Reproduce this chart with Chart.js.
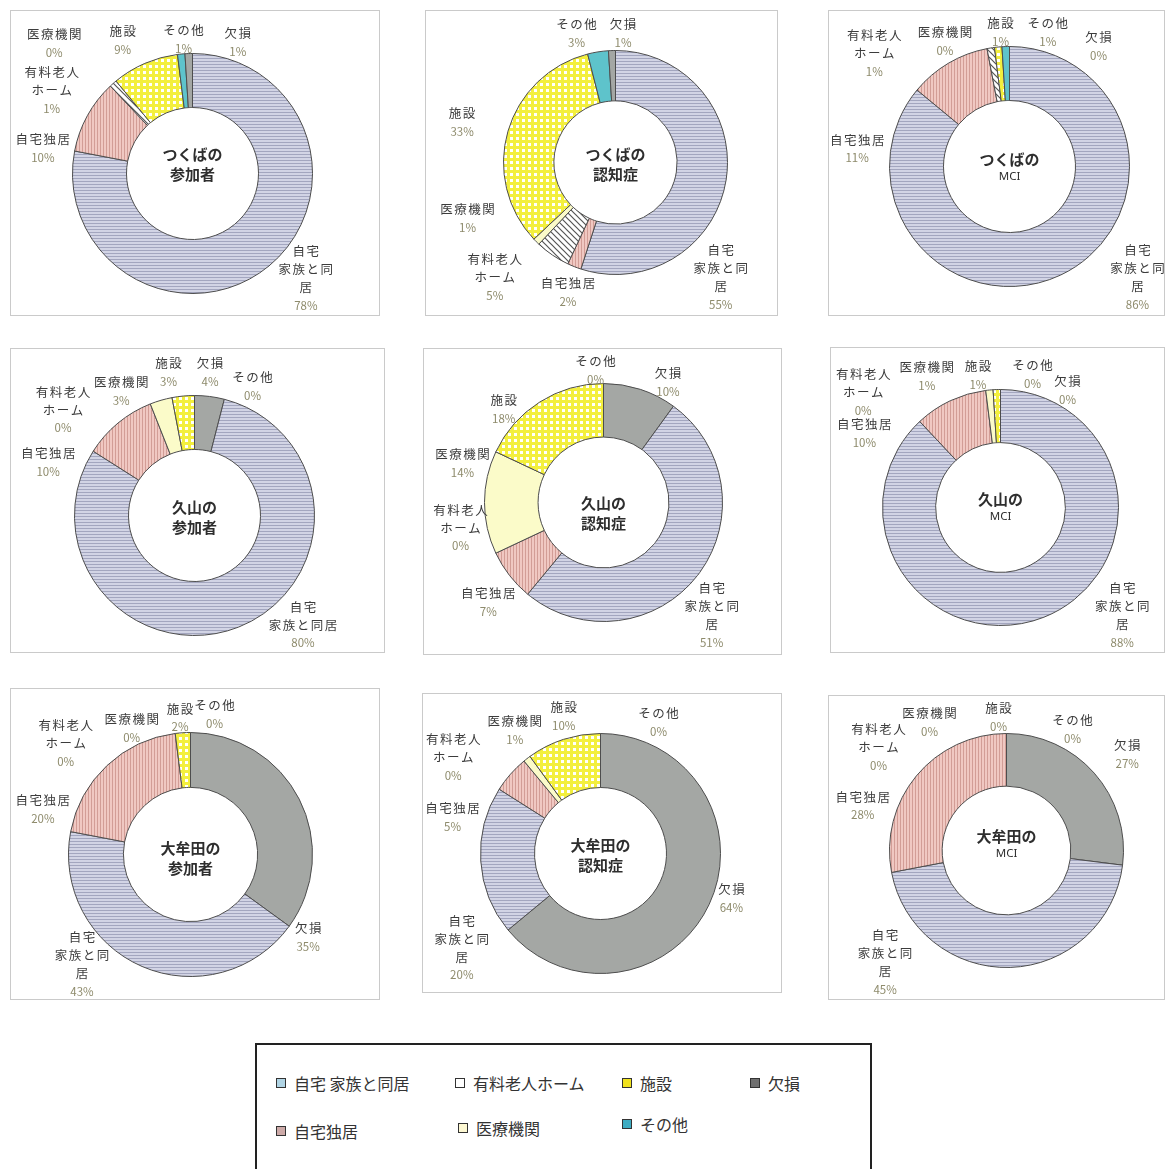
<!DOCTYPE html>
<html lang="ja">
<head>
<meta charset="utf-8">
<script src="https://cdn.jsdelivr.net/npm/chart.js@4.4.1/dist/chart.umd.min.js"></script>
<style>
  body { margin: 0; background: #fff; width: 1165px; height: 1169px; position: relative; overflow: hidden;
         font-family: "Noto Sans CJK JP", "Noto Sans", sans-serif; }
  .box { position: absolute; border: 1px solid #cacaca; box-sizing: border-box; }
  canvas.pie { position: absolute; }
  #legend { position: absolute; left: 255px; top: 1043px; width: 617px; height: 150px;
            border: 2px solid #222; box-sizing: border-box; }
  .item { position: absolute; font-size: 16px; color: #333; white-space: nowrap; line-height: 20px; }
  .item i { display: inline-block; width: 8px; height: 8px; border: 1px solid #333; margin-right: 8px; vertical-align: 2px; }
</style>
</head>
<body>
<div id="legend"></div>
<script>
// 区分（凡例の順）
const categories = ['自宅 家族と同居', '自宅独居', '有料老人ホーム', '医療機関', '施設', '欠損', 'その他'];

// 円の並び順（12時から時計回り）
const orderTsukuba = [0, 1, 2, 3, 4, 6, 5];
const orderOther = [5, 0, 1, 2, 3, 4, 6];

// 割合（%）…並び順どおり
const tsukubaParticipants = [78, 10, 1, 0, 9, 1, 1];
const tsukubaDementia     = [55, 2, 5, 1, 33, 3, 1];
const tsukubaMCI          = [86, 11, 1, 0, 1, 1, 0];
const hisayamaParticipants = [4, 80, 10, 0, 3, 3, 0];
const hisayamaDementia     = [10, 51, 7, 0, 14, 18, 0];
const hisayamaMCI          = [0, 88, 10, 0, 1, 1, 0];
const omutaParticipants = [35, 43, 20, 0, 0, 2, 0];
const omutaDementia     = [64, 20, 5, 0, 1, 10, 0];
const omutaMCI          = [27, 45, 28, 0, 0, 0, 0];

const chartTitles = [
  ['つくばの', '参加者'], ['つくばの', '認知症'], ['つくばの', 'MCI'],
  ['久山の', '参加者'], ['久山の', '認知症'], ['久山の', 'MCI'],
  ['大牟田の', '参加者'], ['大牟田の', '認知症'], ['大牟田の', 'MCI']
];

const charts = [
  { values: tsukubaParticipants, order: orderTsukuba },
  { values: tsukubaDementia, order: orderTsukuba },
  { values: tsukubaMCI, order: orderTsukuba },
  { values: hisayamaParticipants, order: orderOther },
  { values: hisayamaDementia, order: orderOther },
  { values: hisayamaMCI, order: orderOther },
  { values: omutaParticipants, order: orderOther },
  { values: omutaDementia, order: orderOther },
  { values: omutaMCI, order: orderOther }
];

// 枠と円の配置: [left, top, width, height, centerX, centerY, radius, titleDy]
const frames = [
  [10, 10, 370, 306, 192, 173, 120, -9],
  [425, 10, 353, 306, 615, 162, 112, 2],
  [828, 10, 337, 306, 1009, 166, 120, 1],
  [10, 348, 375, 305, 194, 515, 120, 2],
  [423, 348, 359, 307, 603, 502, 119, 11],
  [830, 347, 335, 306, 1000, 507, 118, 0],
  [10, 688, 370, 312, 190, 854, 122, 4],
  [422, 693, 360, 300, 600, 853, 120, 2],
  [828, 695, 337, 305, 1006, 850, 117, -6]
];

// ラベルのずらし量（並び順どおり）
const nudges = [
  [[19,-9],[-20,46],[-43,28],[-44,-16],[-11,3],[5,13],[50,17]],
  [[-33,93],[4,0],[-42,-1],[-49,-43],[-19,-1],[-17,9],[12,11]],
  [[65,-23],[-77,110],[-112,33],[-46,22],[5,13],[43,14],[89,28]],
  [[-3,4],[54,-28],[-52,61],[-77,32],[-32,18],[-12,4],[58,19]],
  [[19,20],[-8,23],[1,10],[-10,-37],[6,-39],[-21,31],[-8,15]],
  [[67,29],[68,-28],[-74,58],[-119,30],[-60,14],[-18,14],[32,13]],
  [[-16,151],[-49,-28],[-45,64],[-106,38],[-40,23],[-1,13],[24,10]],
  [[-3,-18],[9,85],[-37,62],[-53,18],[5,-6],[9,4],[58,17]],
  [[12,0],[-126,-33],[-32,48],[-128,42],[-77,17],[-8,12],[66,24]]
];

// ラベルの改行
function labelLines(cat, chartNo) {
  if (cat === 0) return chartNo === 3 ? ['自宅', '家族と同居'] : ['自宅', '家族と同', '居'];
  if (cat === 2) return ['有料老人', 'ホーム'];
  return [categories[cat]];
}

// 塗りつぶし（模様）
function tile(size, bg, draw) {
  const c = document.createElement('canvas');
  c.width = c.height = size;
  const g = c.getContext('2d');
  g.fillStyle = bg;
  g.fillRect(0, 0, size, size);
  if (draw) draw(g);
  return g.createPattern(c, 'repeat');
}
const fills = [
  tile(3, '#d2d4e5', g => { g.fillStyle = '#a3a6bf'; g.fillRect(0, 0, 3, 1); }),
  tile(3, '#f0c8c2', g => { g.fillStyle = '#d29d96'; g.fillRect(0, 0, 1, 3); }),
  tile(6, '#ffffff', g => { g.strokeStyle = '#555'; g.lineWidth = 1.2; g.beginPath();
                            g.moveTo(-1, -1); g.lineTo(7, 7); g.moveTo(-1, 5); g.lineTo(1, 7);
                            g.moveTo(5, -1); g.lineTo(7, 1); g.stroke(); }),
  '#fbfbc9',
  tile(6, '#f3ef3e', g => { g.fillStyle = '#ffffff'; g.fillRect(1, 1, 3, 3); }),
  '#a4a7a4',
  '#5ec3cb'
];
const legendColors = ['#b0d4e4', '#cdaaa8', '#ffffff', '#fdf8d2', '#f0e21e', '#707070', '#3eacc2'];

const sliceLabels = {
  id: 'sliceLabels',
  afterDatasetsDraw(chart, args, opts) {
    const ctx = chart.ctx;
    const meta = chart.getDatasetMeta(0);
    const data = chart.data.datasets[0].data;
    const lh = 18;
    ctx.save();
    ctx.textAlign = 'center';
    ctx.textBaseline = 'middle';
    meta.data.forEach((arc, i) => {
      const mid = (arc.startAngle + arc.endAngle) / 2;
      const d = arc.outerRadius + 28;
      const x = arc.x + Math.cos(mid) * d + opts.nudges[i][0];
      const y = arc.y + Math.sin(mid) * d + opts.nudges[i][1];
      const lines = opts.lines[i];
      const top = y - lines.length * lh / 2;
      ctx.fillStyle = '#3c3c3c';
      ctx.font = '12.5px "Noto Sans CJK JP"';
      ctx.letterSpacing = '1.5px';
      lines.forEach((t, k) => ctx.fillText(t, x + 0.75, top + k * lh));
      ctx.letterSpacing = '0px';
      ctx.fillStyle = '#8e8b6c';
      ctx.font = '11.5px "Noto Sans CJK JP"';
      ctx.fillText(data[i] + '%', x, top + lines.length * lh);
    });
    // 中央の見出し
    const c = meta.data[0];
    const [t1, t2] = opts.title;
    const cy = c.y + opts.titleDy;
    ctx.fillStyle = '#2e2e2e';
    ctx.font = 'bold 15px "Noto Sans CJK JP"';
    if (t2 === 'MCI') {
      ctx.fillText(t1, c.x, cy - 8);
      ctx.font = '11.5px "Noto Sans"';
      ctx.fillText(t2, c.x, cy + 9);
    } else {
      ctx.fillText(t1, c.x, cy - 10);
      ctx.fillText(t2, c.x, cy + 10);
    }
    ctx.restore();
  }
};

charts.forEach((spec, n) => {
  const [bx, by, bw, bh, cx, cy, r, titleDy] = frames[n];
  const box = document.createElement('div');
  box.className = 'box';
  Object.assign(box.style, { left: bx + 'px', top: by + 'px', width: bw + 'px', height: bh + 'px' });
  document.body.appendChild(box);

  const canvas = document.createElement('canvas');
  canvas.className = 'pie';
  canvas.width = bw;
  canvas.height = bh;
  Object.assign(canvas.style, { left: bx + 'px', top: by + 'px' });
  document.body.appendChild(canvas);

  const padL = cx - r - bx, padT = cy - r - by;
  new Chart(canvas.getContext('2d'), {
    type: 'doughnut',
    data: {
      labels: spec.order.map(k => categories[k]),
      datasets: [{
        data: spec.values,
        backgroundColor: spec.order.map(k => fills[k]),
        borderColor: '#4d4d4d',
        borderWidth: 1,
        hoverOffset: 0
      }]
    },
    options: {
      responsive: false,
      animation: false,
      events: [],
      cutout: '55%',
      layout: { padding: { left: padL, top: padT, right: bw - padL - 2 * r - 1, bottom: bh - padT - 2 * r - 1 } },
      plugins: {
        legend: { display: false },
        tooltip: { enabled: false },
        sliceLabels: {
          nudges: nudges[n],
          lines: spec.order.map(k => labelLines(k, n)),
          title: chartTitles[n],
          titleDy: titleDy
        }
      }
    },
    plugins: [sliceLabels]
  });
});

// 凡例
const legendSlots = [[276, 1083], [276, 1131], [455, 1083], [458, 1128], [622, 1083], [750, 1083], [622, 1124]];
categories.forEach((name, k) => {
  const el = document.createElement('div');
  el.className = 'item';
  el.style.left = legendSlots[k][0] + 'px';
  el.style.top = (legendSlots[k][1] - 10) + 'px';
  el.innerHTML = '<i style="background:' + legendColors[k] + '"></i>' + name;
  document.body.appendChild(el);
});
</script>
</body>
</html>
